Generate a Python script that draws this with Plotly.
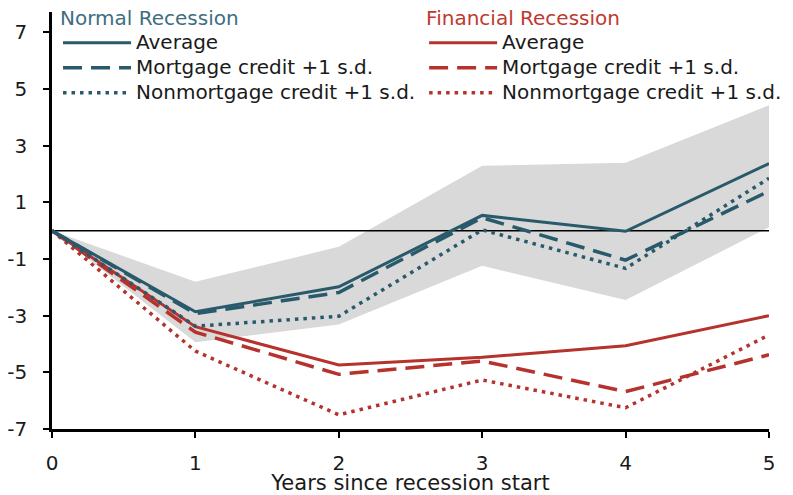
import plotly.graph_objects as go

years = [0, 1, 2, 3, 4, 5]

normal_avg = [0, -2.86, -1.98, 0.54, -0.02, 2.37]
normal_mort = [0, -2.93, -2.18, 0.46, -1.04, 1.40]
normal_nonmort = [0, -3.37, -3.02, 0.03, -1.33, 1.85]
band_upper = [0, -1.80, -0.57, 2.29, 2.40, 4.43]
band_lower = [0, -3.94, -3.31, -1.24, -2.45, 0.12]

fin_avg = [0, -3.39, -4.74, -4.47, -4.06, -3.00]
fin_mort = [0, -3.58, -5.07, -4.60, -5.68, -4.38]
fin_nonmort = [0, -4.25, -6.50, -5.27, -6.25, -3.68]

y_ticks = [-7, -5, -3, -1, 1, 3, 5, 7]
y_ticktext = ["-7", "-5", "-3", "-1", "1", "3", "5", "7"]
x_ticks = [0, 1, 2, 3, 4, 5]

TEAL = "#285a6b"
RED = "#b5322d"
TEAL_T = "#3e6e80"
RED_T = "#c0392f"
DASH = "19px,9px"
DOT = "3.5px,5px"


def big(t, color=None):
    style = "font-size:20px"
    if color:
        style += ";color:" + color
    return "<span style='" + style + "'>" + t + "</span>"


fig = go.Figure()

fig.add_trace(go.Scatter(x=years, y=band_lower, mode="lines", line=dict(width=0),
                         showlegend=False, hoverinfo="skip"))
fig.add_trace(go.Scatter(x=years, y=band_upper, mode="lines", line=dict(width=0),
                         fill="tonexty", fillcolor="#d9d9d9", showlegend=False, hoverinfo="skip"))
# zero reference line
fig.add_trace(go.Scatter(x=[years[0], years[-1]], y=[0, 0], mode="lines",
                         line=dict(color="black", width=1.5), showlegend=False, hoverinfo="skip"))

fig.add_trace(go.Scatter(x=years, y=fin_avg, mode="lines", name=big("Average"),
                         line=dict(color=RED, width=3), legend="legend2"))
fig.add_trace(go.Scatter(x=years, y=fin_mort, mode="lines", name=big("Mortgage credit +1 s.d."),
                         line=dict(color=RED, width=3.5, dash=DASH), legend="legend2"))
fig.add_trace(go.Scatter(x=years, y=fin_nonmort, mode="lines", name=big("Nonmortgage credit +1 s.d."),
                         line=dict(color=RED, width=3.5, dash=DOT), legend="legend2"))

fig.add_trace(go.Scatter(x=years, y=normal_avg, mode="lines", name=big("Average"),
                         line=dict(color=TEAL, width=3), legend="legend"))
fig.add_trace(go.Scatter(x=years, y=normal_mort, mode="lines", name=big("Mortgage credit +1 s.d."),
                         line=dict(color=TEAL, width=3.5, dash=DASH), legend="legend"))
fig.add_trace(go.Scatter(x=years, y=normal_nonmort, mode="lines", name=big("Nonmortgage credit +1 s.d."),
                         line=dict(color=TEAL, width=3.5, dash=DOT), legend="legend"))

FONT = "DejaVu Sans, Verdana, sans-serif"
TXT = "#1a1a1a"

# page body has an 8px default margin: figure is sized/placed to compensate
fig.update_layout(
    width=785, height=487,
    margin=dict(l=44, r=24, t=4, b=66, autoexpand=False),
    paper_bgcolor="white", plot_bgcolor="white",
    font=dict(family=FONT, size=17, color=TXT),
    legend=dict(x=0.0084, y=1.0216, xanchor="left", yanchor="top",
                bgcolor="rgba(0,0,0,0)", itemwidth=68, traceorder="normal",
                font=dict(size=17, color=TXT),
                title=dict(text=big("Normal Recession", TEAL_T), font=dict(size=17, color=TEAL_T), side="top")),
    legend2=dict(x=0.519, y=1.0216, xanchor="left", yanchor="top",
                 bgcolor="rgba(0,0,0,0)", itemwidth=68, traceorder="normal",
                 font=dict(size=17, color=TXT),
                 title=dict(text=big("Financial Recession", RED_T), font=dict(size=17, color=RED_T), side="top")),
    xaxis=dict(range=[0, 5], tickvals=x_ticks, showgrid=False, zeroline=False,
               showline=True, linecolor="black", linewidth=2.5,
               ticks="outside", ticklen=6, tickwidth=1.5, tickcolor="black",
               tickfont=dict(size=20, color=TXT), ticklabelstandoff=8,
               title=dict(text="Years since recession start", font=dict(size=21, color=TXT), standoff=0)),
    yaxis=dict(range=[-7, 7.72], tickvals=y_ticks, ticktext=y_ticktext, showgrid=False,
               zeroline=False,
               showline=True, linecolor="black", linewidth=2.5,
               ticks="outside", ticklen=6, tickwidth=1.5, tickcolor="black",
               tickfont=dict(size=20, color=TXT), ticklabelstandoff=12),
    shapes=[dict(type="line", xref="paper", yref="paper", x0=1.028, x1=1.028,
                 y0=-0.15, y1=1.02, layer="above", line=dict(color="#5b87a8", width=2.5))],
)

fig.write_html("out.html")
